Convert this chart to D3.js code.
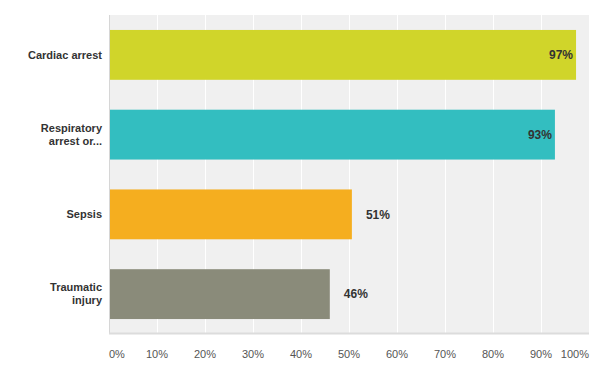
<!DOCTYPE html>
<html>
<head>
<meta charset="utf-8">
<script src="https://cdn.jsdelivr.net/npm/d3@7"></script>
<style>
  html, body { margin: 0; padding: 0; background: #fff; }
  svg { display: block; font-family: "Liberation Sans", Arial, sans-serif; }
</style>
</head>
<body>
<div id="chart"></div>
<script>
// Data
const categories = [['Cardiac arrest'], ['Respiratory', 'arrest or...'], ['Sepsis'], ['Traumatic', 'injury']];
const values = [97.3, 92.9, 50.6, 46.0];
const labels = ['97%', '93%', '51%', '46%'];
const colors = ['#d0d52a', '#33bec0', '#f5ae1f', '#8a8b7a'];
const ticks = [0, 10, 20, 30, 40, 50, 60, 70, 80, 90, 100];

const W = 600, H = 376;
const M = { top: 15, right: 11, bottom: 42, left: 109 };
const iw = W - M.left - M.right, ih = H - M.top - M.bottom;

const svg = d3.select('#chart').append('svg').attr('width', W).attr('height', H);
const g = svg.append('g').attr('transform', `translate(${M.left},${M.top})`);

const x = d3.scaleLinear().domain([0, 100]).range([0, iw]);
const y = d3.scaleBand().domain(d3.range(categories.length)).range([0, ih])
  .paddingInner(0.375).paddingOuter(0.1875);

// plot background
g.append('rect').attr('width', iw).attr('height', ih).attr('fill', '#f0f0f0');

// gridlines
g.selectAll('.grid').data(ticks.slice(1, -1)).join('line')
  .attr('x1', d => x(d)).attr('x2', d => x(d))
  .attr('y1', 0).attr('y2', ih)
  .attr('stroke', '#fff').attr('stroke-width', 1)
  .attr('shape-rendering', 'crispEdges');

// axis lines
g.append('line').attr('x1', 0.5).attr('x2', 0.5).attr('y1', 0).attr('y2', ih)
  .attr('stroke', '#d6d6d6');
g.append('line').attr('x1', 0).attr('x2', iw).attr('y1', ih - 0.5).attr('y2', ih - 0.5)
  .attr('stroke', '#dcdcdc').attr('stroke-width', 2);

// bars
g.selectAll('.bar').data(values).join('rect')
  .attr('x', 1)
  .attr('y', (d, i) => y(i))
  .attr('width', d => x(d) - 1)
  .attr('height', y.bandwidth())
  .attr('fill', (d, i) => colors[i]);

// value labels: inside when the bar is long, outside otherwise
g.selectAll('.val').data(values).join('text')
  .attr('x', d => d > 80 ? x(d) - 3 : x(d) + 14)
  .attr('y', (d, i) => y(i) + y.bandwidth() / 2)
  .attr('dy', '0.35em')
  .attr('text-anchor', d => d > 80 ? 'end' : 'start')
  .attr('font-size', 12).attr('font-weight', 'bold').attr('fill', '#333')
  .text((d, i) => labels[i]);

// category labels
categories.forEach((lines, i) => {
  const cy = y(i) + y.bandwidth() / 2;
  const t = g.append('text')
    .attr('x', -7).attr('text-anchor', 'end')
    .attr('font-size', 11).attr('font-weight', 'bold').attr('fill', '#333');
  lines.forEach((ln, j) => {
    t.append('tspan').attr('x', -7)
      .attr('y', cy + (j - (lines.length - 1) / 2) * 13)
      .attr('dy', '0.35em')
      .text(ln);
  });
});

// x tick labels (first and last kept inside the plot width)
g.selectAll('.tick').data(ticks).join('text')
  .attr('x', d => x(d))
  .attr('y', ih + 20)
  .attr('dy', '0.35em')
  .attr('text-anchor', (d, i) => i === 0 ? 'start' : i === ticks.length - 1 ? 'end' : 'middle')
  .attr('font-size', 11).attr('fill', '#555')
  .text(d => d + '%');
</script>
</body>
</html>
